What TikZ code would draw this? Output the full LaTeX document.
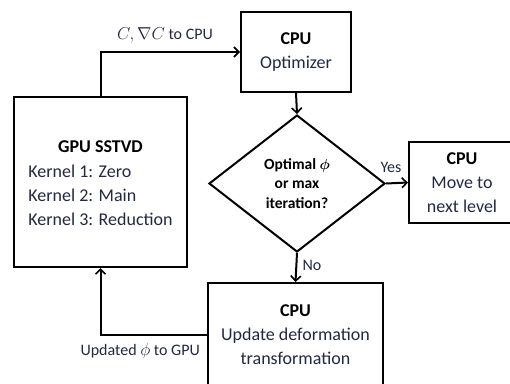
\documentclass[tikz,border=0pt]{standalone}
\usepackage{fontspec}
\setmainfont{Carlito}
\usepackage{amssymb,amsmath}
\usepackage{tikz}
\usetikzlibrary{arrows.meta,shapes.geometric}
\definecolor{txt}{RGB}{35,40,66}

\tikzset{
  box/.style={draw=black,line width=2pt,rectangle,align=center,text=txt,
    font=\fontsize{18}{24}\selectfont,inner sep=0pt},
  decide/.style={draw=black,line width=2pt,diamond,aspect=1.28,inner sep=0pt,
    align=center,font=\fontsize{15.5}{19.5}\selectfont\bfseries},
  flow/.style={line width=2pt,-{Straight Barb[length=5pt,width=10pt,line width=1.6pt]}},
  lbl/.style={text=txt,font=\fontsize{16}{18}\selectfont,inner sep=0pt}
}

\begin{document}
\begin{tikzpicture}[x=1pt,y=-1pt]

          \useasboundingbox (0,0) rectangle (510,383);
          \clip (0,0) rectangle (510,383);

          % boxes
          \node[box,minimum width=110,minimum height=80] (opt) at (296,52)
            {\textcolor{black}{\textbf{CPU}}\\Optimizer};

          \node[box,minimum width=173,minimum height=170] (gpu) at (100.5,182)
            {\begin{tabular}{@{}l@{}}
             \multicolumn{1}{c}{\textcolor{black}{\textbf{GPU SSTVD}}}\\[1pt]
             Kernel 1: Zero\\
             Kernel 2: Main\\
             Kernel 3: Reduction\\[-4pt]
             \end{tabular}};

          \node[decide,minimum width=176,minimum height=137] (dec) at (297,183.5)
            {Optimal $\boldsymbol{\phi}$\\or max\\iteration?};

          \node[box,minimum width=106,minimum height=81] (move) at (462,182.5)
            {\textcolor{black}{\textbf{CPU}}\\Move to\\next level};

          \node[box,minimum width=175,minimum height=104] (upd) at (295.5,335)
            {\textcolor{black}{\textbf{CPU}}\\Update deformation\\transformation};

          % connectors
          \draw[flow] (gpu.north) |- (opt.west);
          \node[lbl] (lblc) at (165,35) {$C,\nabla C$ to CPU};

          \draw[flow] (opt.south) -- (dec.north);

          \draw[flow] (dec.east) -- (move.west);
          \node[lbl] (lblyes) at (391,167) {Yes};

          \draw[flow] (dec.south) -- (upd.north);
          \node[lbl] (lblno) at (312,265) {No};

          \draw[flow] (upd.west) -| (gpu.south);
          \node[lbl,anchor=east] (lblphi) at (200,351) {Updated $\phi$ to GPU};

\end{tikzpicture}
\end{document}
